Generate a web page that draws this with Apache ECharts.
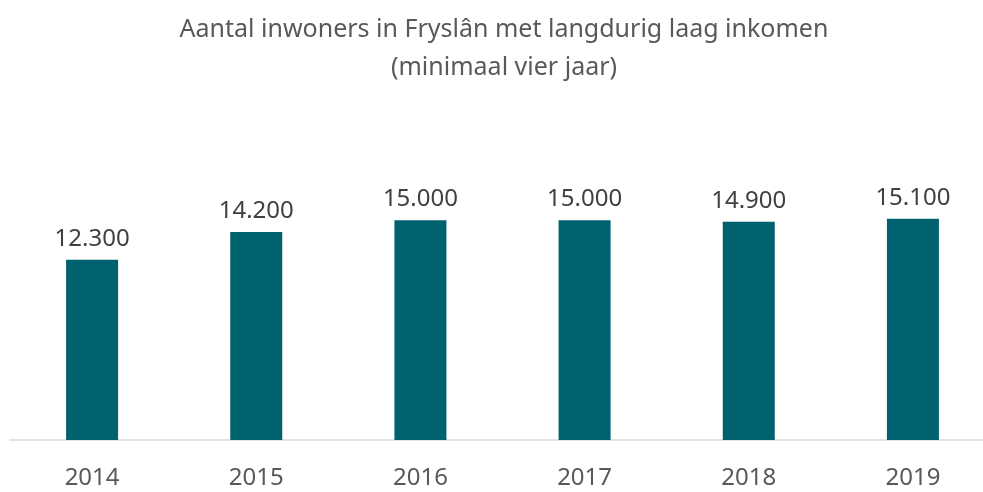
<!DOCTYPE html>
<html>
<head>
<meta charset="utf-8">
<script src="https://cdn.jsdelivr.net/npm/echarts@6/dist/echarts.min.js"></script>
<style>
  html, body { margin: 0; padding: 0; background: #fff; overflow: hidden; }
  #chart { width: 1008px; height: 492px; }
</style>
</head>
<body>
<div id="chart"></div>
<script>
const years = ["2014", "2015", "2016", "2017", "2018", "2019"];
const inwoners = [12300, 14200, 15000, 15000, 14900, 15100];

const fmt = (v) => String(v).replace(/\B(?=(\d{3})+(?!\d))/g, ".");

const chart = echarts.init(document.getElementById("chart"));
chart.setOption({
  animation: false,
  title: {
    text: "Aantal inwoners in Fryslân met langdurig laag inkomen\n(minimaal vier jaar)",
    left: "center",
    top: 6,
    textStyle: {
      fontFamily: "Noto Sans",
      fontSize: 25,
      fontWeight: "normal",
      color: "#595959",
      lineHeight: 38,
    },
  },
  grid: {
    left: 10,
    right: 13,
    top: 147,
    bottom: 52,
    containLabel: false,
  },
  xAxis: {
    type: "category",
    data: years,
    axisLine: { lineStyle: { color: "#d9d9d9", width: 1.5 } },
    axisTick: { show: false },
    axisLabel: {
      margin: 26,
      fontFamily: "Noto Sans",
      fontSize: 24,
      color: "#595959",
    },
  },
  yAxis: {
    type: "value",
    min: 0,
    max: 20000,
    show: false,
    splitLine: { show: false },
  },
  series: [
    {
      type: "bar",
      data: inwoners,
      barWidth: 52,
      itemStyle: { color: "#00626f" },
      label: {
        show: true,
        position: "top",
        distance: 9,
        fontFamily: "Noto Sans",
        fontSize: 24,
        color: "#404040",
        formatter: (p) => fmt(p.value),
      },
    },
  ],
});
</script>
</body>
</html>
